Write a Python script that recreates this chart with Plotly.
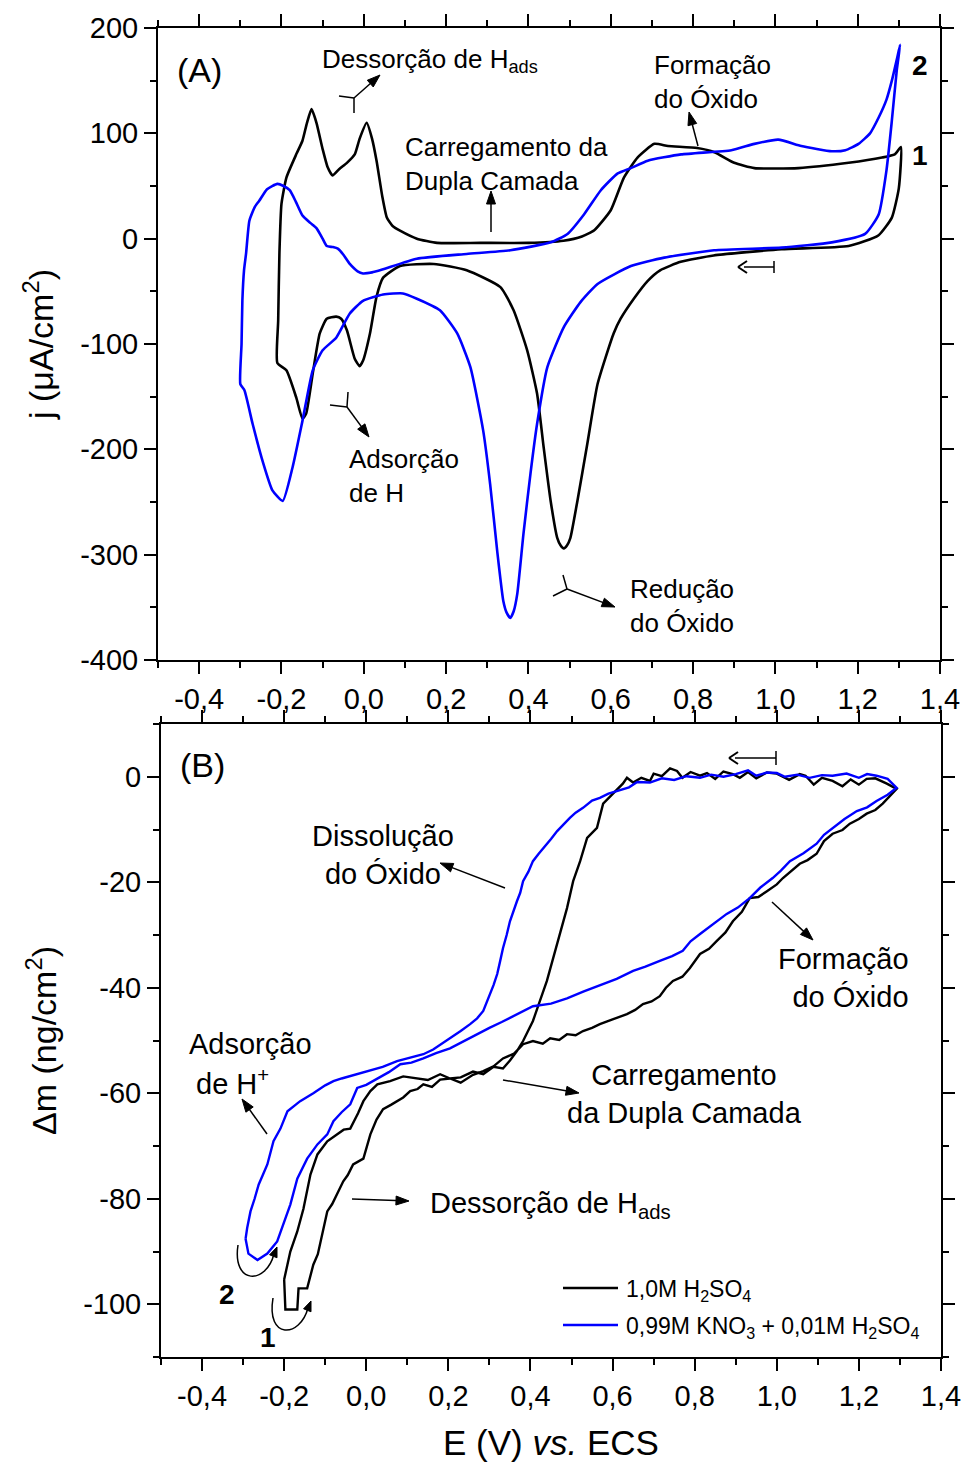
import math
import plotly.graph_objects as go

# ---------------- DATA ----------------
# Panel A: cyclic voltammograms, j (uA/cm2) vs E (V)
E_A1 = [-0.21, -0.208, -0.205, -0.2, -0.188, -0.163, -0.149, -0.138, -0.127, -0.115, -0.1, -0.088, -0.076,
        -0.06, -0.041, -0.022, -0.01, 0.007, 0.02, 0.031, 0.045, 0.056, 0.07, 0.088, 0.129, 0.178, 0.283, 0.4,
        0.485, 0.53, 0.56, 0.6, 0.632, 0.665, 0.706, 0.739, 0.81, 0.852, 0.9, 0.949, 1.056, 1.178, 1.259, 1.29, 1.305,
        1.3, 1.283, 1.25, 1.178, 1.015, 0.85, 0.77, 0.72, 0.69, 0.656, 0.624, 0.607, 0.568, 0.543, 0.519, 0.502,
        0.494, 0.486, 0.478, 0.47, 0.454, 0.437, 0.421, 0.397, 0.364, 0.332, 0.25, 0.17, 0.088, 0.047, 0.031, 0.015,
        -0.002, -0.01, -0.022, -0.041, -0.055, -0.067, -0.09, -0.107, -0.124, -0.14, -0.149, -0.164, -0.188, -0.21]
j_A1 = [-118, -78, -14, 33, 58, 81, 93, 110, 123, 110, 85, 68, 60,
        66, 72, 80, 95, 110, 95, 74, 40, 20, 12, 7.6, 0, -4, -4, -4,
        -2, 2, 8, 27, 58, 77, 90, 88, 86, 82, 72, 67, 67, 72, 77, 80, 87,
        48, 20, 3, -7, -10, -16, -22, -30, -40, -57, -76, -90, -138, -195, -249, -284,
        -291, -294, -291, -284, -249, -198, -147, -106, -68, -46, -30, -24, -26, -37, -55, -90,
        -116, -121, -114, -87, -76, -74, -76, -90, -128, -166, -171, -151, -125, -118]

E_A2 = [-0.30, -0.297, -0.295, -0.291, -0.286, -0.278, -0.265, -0.254, -0.235, -0.21, -0.195, -0.18, -0.165,
        -0.149, -0.13, -0.115, -0.1, -0.09, -0.075, -0.063, -0.05, -0.034, -0.015, -0.002, 0.02, 0.047, 0.129,
        0.25, 0.356, 0.454, 0.495, 0.535, 0.576, 0.617, 0.649, 0.69, 0.771, 0.893, 0.949, 1.007, 1.063, 1.137,
        1.17, 1.202, 1.23, 1.251, 1.27, 1.283, 1.295, 1.303,
        1.295, 1.283, 1.27, 1.251, 1.218, 1.137, 1.015, 0.851, 0.73, 0.649, 0.568, 0.527, 0.486, 0.446, 0.421,
        0.405, 0.388, 0.373, 0.364, 0.356, 0.347, 0.339, 0.324, 0.307, 0.29, 0.259, 0.227, 0.185, 0.129, 0.095,
        0.047, -0.002, -0.034, -0.067, -0.1, -0.124, -0.149, -0.173, -0.197, -0.222, -0.246, -0.27, -0.29, -0.30]
j_A2 = [-138, -100, -59, -30, -14, 17, 30, 36, 47, 52, 50, 46, 35,
        22, 15, 10, 0, -7, -8, -9.5, -15, -24, -31, -33, -32, -29, -19,
        -14.5, -11, -3.5, 4.5, 23, 46, 62, 67, 74, 80, 84, 90, 94, 88, 83,
        84, 90, 100, 115, 132, 150, 170, 184,
        160, 112, 65, 23, 4.5, -3.5, -8.5, -11, -18, -26, -43, -60, -84, -122, -176,
        -223, -280, -337, -354, -360, -355, -344, -296, -233, -182, -122, -90, -68, -57, -52,
        -53, -59, -71, -94, -106, -125, -173, -217, -249, -239, -211, -176, -144, -138]

# Panel B: mass change, dm (ng/cm2) vs E (V)
E_B1 = [-0.2, -0.197, -0.168, -0.165, -0.144, -0.129, -0.118, -0.107, -0.095, -0.083, -0.071, -0.056, -0.045,
        -0.032, -0.007, 0.01, 0.025, 0.041, 0.06, 0.075, 0.09, 0.107, 0.125, 0.139, 0.16, 0.18, 0.204, 0.23,
        0.26, 0.285, 0.31, 0.333, 0.36, 0.382, 0.406, 0.43, 0.448, 0.47, 0.489, 0.51, 0.528, 0.55, 0.569, 0.6,
        0.635, 0.655, 0.674, 0.695, 0.715, 0.73, 0.747, 0.77, 0.788, 0.813, 0.835, 0.854, 0.875, 0.893, 0.915,
        0.934, 0.955, 0.976, 1.0, 1.015, 1.035, 1.056, 1.075, 1.097, 1.115, 1.136, 1.16, 1.178, 1.2, 1.219, 1.24,
        1.258, 1.292,
        1.268, 1.24, 1.219, 1.2, 1.18, 1.16, 1.136, 1.11, 1.09, 1.07, 1.056, 1.03, 1.0, 0.976, 0.95, 0.93, 0.91,
        0.893, 0.87, 0.85, 0.83, 0.813, 0.79, 0.77, 0.757, 0.74, 0.72, 0.7, 0.691, 0.67, 0.65, 0.635, 0.625,
        0.601, 0.577, 0.562, 0.538, 0.521, 0.504, 0.489, 0.472, 0.455, 0.44, 0.423, 0.406, 0.382, 0.367, 0.35,
        0.333, 0.31, 0.285, 0.26, 0.23, 0.204, 0.18, 0.15, 0.124, 0.09, 0.058, 0.027, 0.01, -0.007, -0.02,
        -0.039, -0.055, -0.071, -0.095, -0.119, -0.136, -0.153, -0.168, -0.185, -0.2]
m_B1 = [-95.3, -101, -101, -97, -97, -92.5, -90.5, -86.8, -82.4, -81.0, -79.2, -76.7, -75.5,
        -73.5, -72.4, -67.8, -65.0, -63, -62.2, -61.5, -60.8, -59.6, -59.2, -58.3, -58.8, -57.4, -57.2, -58.0,
        -56.5, -55.8, -54.9, -53.4, -52.5, -50.7, -50.1, -50.6, -49.6, -49.9, -48.8, -49.0, -48.2, -47.6, -46.9, -46.0,
        -45, -44.2, -43.1, -42.6, -41.6, -40.0, -38.7, -37.9, -36.3, -33.6, -32.6, -31.1, -29.5, -27.4, -25.6,
        -23, -22.8, -21.7, -20.4, -19.2, -17.8, -16.5, -15.8, -14.6, -12.2, -10.8, -10.1, -8.9, -8.0, -7, -6.3,
        -5.1, -2.3,
        -1.3, -0.3, -0.4, -1.5, -0.5, -1.8, -0.8, -0.2, -1.5, 0.2, 0.5, -0.6, 0.6, 0.8, -0.3, 0.9, -0.2,
        0.5, 1.0, -0.4, 0.7, 0.2, 0.9, -0.2, 1.1, 1.6, 0.1, 0.6, -0.8, -0.2, -1.1, -0.2, -1.3,
        -3.2, -5.1, -9.7, -11.6, -16, -19.8, -24.9, -29.8, -34.9, -38.7, -42.5, -46.3, -50.1, -52, -53.8,
        -55.3, -55.0, -56.4, -55.9, -57.0, -57.2, -56.4, -57.5, -57.2, -56.8, -57.7, -58.3, -59.6, -61.5, -63.8,
        -66.7, -66.9, -67.8, -69.1, -71.6, -75.4, -81.9, -86.2, -90, -95.3]

E_B2 = [-0.294, -0.287, -0.265, -0.241, -0.217, -0.2, -0.185, -0.168, -0.144, -0.119, -0.095, -0.08, -0.06,
        -0.039, -0.022, 0.0, 0.027, 0.055, 0.083, 0.11, 0.139, 0.17, 0.204, 0.24, 0.27, 0.3, 0.33, 0.367, 0.406,
        0.45, 0.489, 0.53, 0.569, 0.61, 0.65, 0.68, 0.715, 0.745, 0.771, 0.79, 0.813, 0.845, 0.878, 0.905, 0.934,
        0.96, 0.99, 1.01, 1.032, 1.065, 1.097, 1.115, 1.136, 1.165, 1.195, 1.22, 1.243, 1.27, 1.292,
        1.27, 1.243, 1.22, 1.2, 1.17, 1.136, 1.11, 1.08, 1.05, 1.02, 1.0, 0.976, 0.95, 0.93, 0.9, 0.87, 0.84,
        0.813, 0.78, 0.75, 0.72, 0.691, 0.66, 0.64, 0.611, 0.59, 0.569, 0.55, 0.528, 0.51, 0.496, 0.48, 0.465,
        0.45, 0.44, 0.42, 0.406, 0.395, 0.382, 0.375, 0.367, 0.358, 0.35, 0.342, 0.333, 0.326, 0.319, 0.31,
        0.302, 0.29, 0.285, 0.27, 0.253, 0.23, 0.204, 0.18, 0.163, 0.139, 0.11, 0.075, 0.04, 0.002, -0.03, -0.06,
        -0.08, -0.1, -0.129, -0.161, -0.192, -0.209, -0.226, -0.241, -0.252, -0.262, -0.272, -0.282, -0.29, -0.294]
m_B2 = [-87.6, -90.4, -91.6, -90.4, -88.1, -84.3, -81.1, -76.2, -72.4, -69.7, -67.8, -65.3, -63.6,
        -62.1, -59, -58.4, -57.2, -56.0, -54.5, -54.2, -53.4, -52.4, -51.5, -50.0, -48.8, -47.6, -46.5, -45, -43.5,
        -43.0, -42, -40.7, -39.5, -38.3, -36.8, -36.0, -34.9, -34.0, -33, -31.2, -29.8, -28.0, -26, -24.8, -23,
        -21.0, -19.2, -17.8, -16, -14.5, -12.7, -11.0, -9.7, -8.0, -6.5, -5.8, -4.6, -3.4, -2.1,
        -0.4, 0.2, 0.5, -0.2, 0.6, 0.2, 0.3, -0.2, 0.4, 0.0, 0.7, 0.8, 0.2, 1.2, 0.5, 0.0, 0.4,
        -0.2, 0.1, -0.6, -0.3, -1.1, -1.0, -2.0, -2.7, -3.2, -4.0, -4.5, -5.9, -6.8, -7.8, -9.0, -10.3,
        -11.8, -12.7, -14.6, -16.0, -18.0, -19.8, -22.0, -23.6, -25.5, -27.4, -30.0, -32.5, -35.0, -37.4, -39.5,
        -41.2, -43.5, -44.4, -45.8, -46.9, -48.2, -49.6, -50.9, -51.7, -52.6, -53.2, -53.9, -55.0, -55.8, -56.5, -57.2,
        -57.7, -58.5, -60.0, -61.5, -63.4, -66.7, -69.1, -73.5, -75.5, -77.3, -80.0, -82.4, -85.5, -87.6]

x_tickvals = [-0.4, -0.2, 0.0, 0.2, 0.4, 0.6, 0.8, 1.0, 1.2, 1.4]
x_ticktext = ["-0,4", "-0,2", "0,0", "0,2", "0,4", "0,6", "0,8", "1,0", "1,2", "1,4"]
yA_tickvals = [200, 100, 0, -100, -200, -300, -400]
yA_ticktext = ["200", "100", "0", "-100", "-200", "-300", "-400"]
yB_tickvals = [0, -20, -40, -60, -80, -100]
yB_ticktext = ["0", "-20", "-40", "-60", "-80", "-100"]

BLACK = "#000000"
BLUE = "#0000FF"
FONT = "Liberation Sans, Arial, sans-serif"

W, H = 964, 1465
ML, MR, MT, MB = 158, 23, 28, 108
PW, PH = W - ML - MR, H - MT - MB


def P(px, py):
    return (px - ML) / PW, (H - MB - py) / PH


fig = go.Figure()
fig.add_trace(go.Scatter(x=E_A1, y=j_A1, mode="lines", line=dict(color=BLACK, width=2.6, shape="spline", smoothing=0.5),
                         xaxis="x", yaxis="y", showlegend=False, name="1,0M H2SO4"))
fig.add_trace(go.Scatter(x=E_A2, y=j_A2, mode="lines", line=dict(color=BLUE, width=2.6, shape="spline", smoothing=0.5),
                         xaxis="x", yaxis="y", showlegend=False, name="0,99M KNO3 + 0,01M H2SO4"))
fig.add_trace(go.Scatter(x=E_B1, y=m_B1, mode="lines", line=dict(color=BLACK, width=2.4),
                         xaxis="x2", yaxis="y2", showlegend=False, name="1,0M H2SO4"))
fig.add_trace(go.Scatter(x=E_B2, y=m_B2, mode="lines", line=dict(color=BLUE, width=2.4),
                         xaxis="x2", yaxis="y2", showlegend=False, name="0,99M KNO3 + 0,01M H2SO4"))

axis_common = dict(showgrid=False, zeroline=False, showline=True, linecolor="black", linewidth=2,
                   ticks="outside", ticklen=12, tickwidth=2, tickcolor="black", mirror="ticks",
                   automargin=False, tickfont=dict(family=FONT, size=29, color="black"))

fig.update_layout(
    template="none",
    width=W, height=H, margin=dict(l=ML, r=MR, t=MT, b=MB, autoexpand=False),
    paper_bgcolor="white", plot_bgcolor="white",
    font=dict(family=FONT, color="black"),
    xaxis=dict(domain=[0, 782 / 783], range=[-0.5, 1.4], tickmode="array", tickvals=x_tickvals,
               ticktext=x_ticktext, anchor="y",
               minor=dict(tickmode="linear", tick0=0, dtick=0.1, ticklen=6, tickwidth=2, ticks="outside"),
               **axis_common),
    yaxis=dict(domain=[(H - MB - 660) / PH, 1], range=[-400, 200], tickmode="array", tickvals=yA_tickvals,
               ticktext=yA_ticktext, anchor="x",
               minor=dict(tickmode="linear", tick0=0, dtick=50, ticklen=6, tickwidth=2, ticks="outside"),
               title=dict(text="j (\u03bcA/cm<sup>2</sup>)", font=dict(family=FONT, size=34), standoff=16),
               **axis_common),
    xaxis2=dict(domain=[3 / 783, 1], range=[-0.5, 1.4], tickmode="array", tickvals=x_tickvals,
                ticktext=x_ticktext, anchor="y2",
                minor=dict(tickmode="linear", tick0=0, dtick=0.1, ticklen=6, tickwidth=2, ticks="outside"),
                title=dict(text="E (V) <i>vs.</i> ECS", font=dict(family=FONT, size=35), standoff=20),
                **axis_common),
    yaxis2=dict(domain=[0, (H - MB - 724) / PH], range=[-110, 10], tickmode="array", tickvals=yB_tickvals,
                ticktext=yB_ticktext, anchor="x2",
                minor=dict(tickmode="linear", tick0=0, dtick=10, ticklen=6, tickwidth=2, ticks="outside"),
                title=dict(text="\u0394m (ng/cm<sup>2</sup>)", font=dict(family=FONT, size=34), standoff=16),
                **axis_common),
)

ann = []
shapes = []


def text(px, py, s, size=26, xanchor="left", align="left", bold=False):
    x, y = P(px, py)
    if bold:
        s = "<b>" + s + "</b>"
    ann.append(dict(x=x, y=y, xref="paper", yref="paper", text=s, showarrow=False, xanchor=xanchor,
                    yanchor="middle", align=align, font=dict(family=FONT, size=size, color="black")))


def seg(x0, y0, x1, y1, width=1.5, color="black"):
    a, b = P(x0, y0)
    c, d = P(x1, y1)
    shapes.append(dict(type="line", xref="paper", yref="paper", x0=a, y0=b, x1=c, y1=d,
                       line=dict(color=color, width=width)))


def head(tx, ty, hx, hy, L=13, Wd=4.5, open_head=False):
    dx, dy = hx - tx, hy - ty
    n = math.hypot(dx, dy)
    ux, uy = dx / n, dy / n
    bx, by = hx - ux * L, hy - uy * L
    qx, qy = -uy, ux
    p1 = (bx + qx * Wd, by + qy * Wd)
    p2 = (bx - qx * Wd, by - qy * Wd)
    if open_head:
        seg(p1[0], p1[1], hx, hy, width=2)
        seg(p2[0], p2[1], hx, hy, width=2)
        return
    h = P(hx, hy)
    a = P(*p1)
    b = P(*p2)
    path = "M {} {} L {} {} L {} {} Z".format(h[0], h[1], a[0], a[1], b[0], b[1])
    shapes.append(dict(type="path", xref="paper", yref="paper", path=path, fillcolor="black",
                       line=dict(color="black", width=1)))


def arrow(tx, ty, hx, hy, open_head=False):
    dx, dy = hx - tx, hy - ty
    n = math.hypot(dx, dy)
    # stop the shaft a bit before the tip
    ex, ey = hx - dx / n * 6, hy - dy / n * 6
    seg(tx, ty, ex, ey)
    if open_head:
        head(tx, ty, hx, hy, L=9, Wd=6, open_head=True)
    else:
        head(tx, ty, hx, hy)


def curve(pts, width=1.5):
    q = [P(*p) for p in pts]
    path = "M {} {} C {} {}, {} {}, {} {}".format(q[0][0], q[0][1], q[1][0], q[1][1], q[2][0], q[2][1],
                                                  q[3][0], q[3][1])
    shapes.append(dict(type="path", xref="paper", yref="paper", path=path, line=dict(color="black", width=width)))


# ---- Panel A annotations ----
text(175, 70, "(A)", size=34)
text(320, 61, "Dessorção de H<sub>ads</sub>", size=26)
seg(339, 96, 354, 98)
seg(354, 98, 354, 113)
arrow(354, 98, 380, 75)
text(403, 164, "Carregamento da<br>Dupla Camada", size=26)
arrow(491, 232, 491, 191)
text(652, 82, "Formação<br>do Óxido", size=26)
arrow(698, 146, 689, 112)
text(910, 65, "2", size=28, bold=True)
text(910, 155, "1", size=28, bold=True)
arrow(774, 267, 738, 267, open_head=True)
seg(774, 261, 774, 273)
text(347, 476, "Adsorção<br>de H", size=26)
seg(330, 405, 347, 407)
seg(348, 392, 347, 407)
arrow(347, 407, 369, 437)
text(628, 606, "Redução<br>do Óxido", size=26)
seg(553, 596, 567, 589)
seg(563, 575, 567, 589)
arrow(567, 589, 615, 607)

# ---- Panel B annotations ----
text(178, 765, "(B)", size=34)
text(383, 855, "Dissolução<br>do Óxido", size=29, xanchor="center", align="center")
arrow(505, 888, 440, 863)
text(911, 978, "Formação<br>do Óxido", size=29, xanchor="right", align="right")
arrow(772, 902, 813, 940)
text(187, 1044, "Adsorção", size=29)
text(194, 1082, "de H<sup>+</sup>", size=29)
arrow(267, 1134, 242, 1099)
text(684, 1094, "Carregamento<br>da Dupla Camada", size=29, xanchor="center", align="center")
arrow(503, 1080, 579, 1093)
text(428, 1205, "Dessorção de H<sub>ads</sub>", size=29)
arrow(352, 1199, 409, 1201)
arrow(776, 758, 729, 758, open_head=True)
seg(776, 751, 776, 765)
text(217, 1294, "2", size=28, bold=True)
text(258, 1337, "1", size=28, bold=True)
curve([(238, 1245), (232, 1285), (266, 1285), (274, 1254)])
head(271, 1262, 277, 1247, L=10, Wd=4)
curve([(273, 1298), (266, 1340), (300, 1338), (308, 1308)])
head(305, 1316, 311, 1301, L=10, Wd=4)

# ---- Legend (panel B) ----
seg(563, 1288, 618, 1288, width=2.5)
text(624, 1290, "1,0M H<sub>2</sub>SO<sub>4</sub>", size=23)
seg(563, 1325, 618, 1325, width=2.5, color=BLUE)
text(624, 1327, "0,99M KNO<sub>3</sub> + 0,01M H<sub>2</sub>SO<sub>4</sub>", size=23)

fig.update_layout(annotations=ann, shapes=shapes)
fig.write_html("out.html")
